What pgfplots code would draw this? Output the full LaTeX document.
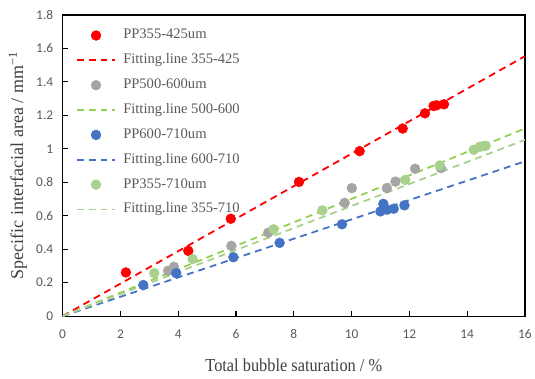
\documentclass[border=0pt]{standalone}
\usepackage{fontspec}
\setmainfont{Liberation Serif}
\newfontfamily\carlito{Carlito}
\usepackage{pgfplots}
\pgfplotsset{compat=1.18}
\definecolor{cred}{RGB}{255,0,0}
\definecolor{cgray}{RGB}{165,165,165}
\definecolor{cblue}{RGB}{68,114,196}
\definecolor{cgreen}{RGB}{169,209,142}
\definecolor{cbright}{RGB}{146,208,80}
\definecolor{ctxt}{RGB}{89,89,89}
\definecolor{clab}{RGB}{64,64,64}
\begin{document}
\begin{tikzpicture}
\begin{axis}[
  scale only axis, width=465bp, height=303bp,
  xmin=0, xmax=16, ymin=0, ymax=1.8,
  xtick={0,2,4,6,8,10,12,14,16},
  ytick={0,0.2,0.4,0.6,0.8,1,1.2,1.4,1.6,1.8},
  tick align=inside, tick pos=left, major tick length=5bp,
  axis line style={black, line width=1.2bp},
  tick style={black, line width=1.1bp},
  /pgf/number format/assume math mode=true,
  ticklabel style={font=\carlito\fontsize{13.5}{13.5}\selectfont, text=ctxt},
  xticklabel style={yshift=-10bp},
  yticklabel style={xshift=-6bp},
  xlabel={\scalebox{1}[1.12]{Total bubble saturation / \%}},
  ylabel={Specific interfacial area / mm\textsuperscript{\char"2212 1}},
  xlabel style={font=\fontsize{16.5}{16.5}\selectfont, text=clab, at={(axis description cs:0.5,-0.162)}, anchor=center},
  ylabel style={font=\fontsize{18.2}{18.2}\selectfont, text=clab, at={(axis description cs:-0.0968,0.5)}, anchor=center},
  legend style={at={(axis description cs:0,1)}, anchor=north west,
    xshift=13bp, yshift=-14bp, draw=none, fill=none, inner sep=0pt,
    font=\fontsize{14.7}{14.7}\selectfont, text=ctxt,
    nodes={inner sep=0pt, text height=10bp, text depth=3bp},
    row sep=12bp, column sep=7bp},
  legend cell align=left,
  legend image code/.code={\draw[mark repeat=2,mark phase=2,#1] plot coordinates {(0bp,0bp) (19.5bp,0bp) (39bp,0bp)};},
  fitline/.style={no marks, line width=1.8bp, dash pattern=on 7bp off 5bp},
  pts/.style={only marks, mark=*, mark size=5bp},
]
\addplot[pts, color=cred] coordinates {
 (2.19,0.261) (4.35,0.390) (5.82,0.582) (8.18,0.802) (10.28,0.986)
 (11.77,1.121) (12.54,1.212) (12.84,1.256) (12.94,1.260) (13.20,1.266)};
\addlegendentry{PP355-425um}
\addplot[fitline, color=cred] coordinates {(0,0) (16,1.553)};
\addlegendentry{Fitting.line 355-425}
\addplot[pts, color=cgray] coordinates {
 (3.65,0.271) (3.85,0.295) (5.84,0.420) (7.12,0.499) (9.76,0.677)
 (10.01,0.765) (11.22,0.765) (11.52,0.804) (12.20,0.881) (13.09,0.885)};
\addlegendentry{PP500-600um}
\addplot[fitline, color=cbright] coordinates {(0,0) (16,1.121)};
\addlegendentry{Fitting.line 500-600}
\addplot[pts, color=cblue] coordinates {
 (2.79,0.186) (3.93,0.257) (5.91,0.352) (7.51,0.438) (9.67,0.549)
 (11.00,0.626) (11.10,0.671) (11.23,0.636) (11.46,0.642) (11.83,0.662)};
\addlegendentry{PP600-710um}
\addplot[fitline, color=cblue] coordinates {(0,0) (16,0.925)};
\addlegendentry{Fitting.line 600-710}
\addplot[pts, color=cgreen] coordinates {
 (3.17,0.257) (4.50,0.341) (7.30,0.519) (8.99,0.632) (11.86,0.814)
 (13.05,0.900) (14.23,0.994) (14.44,1.012) (14.55,1.016) (14.64,1.018)};
\addlegendentry{PP355-710um}
\addplot[fitline, color=cgreen] coordinates {(0,0) (16,1.053)};
\addlegendentry{Fitting.line 355-710}
\end{axis}
\path[use as bounding box] (current axis.south west) ++(-63bp,-63bp) rectangle ++(535bp,381bp);
\end{tikzpicture}
\end{document}
